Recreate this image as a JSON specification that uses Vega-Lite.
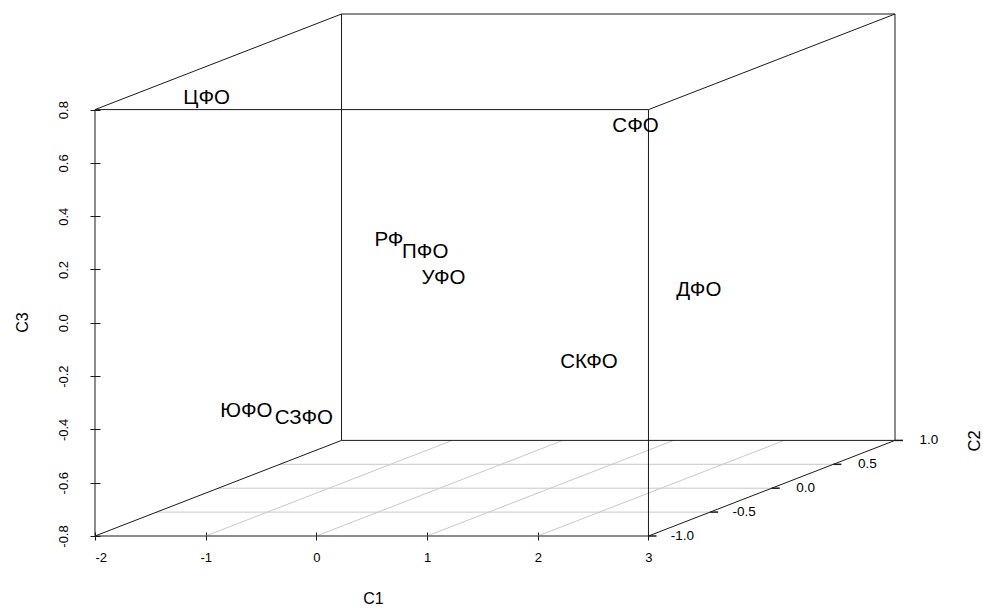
{
  "$schema": "https://vega.github.io/schema/vega-lite/v6.json",
  "width": 800,
  "height": 522,
  "autosize": "none",
  "padding": {"left": 95, "top": 14, "right": 88, "bottom": 72},
  "background": "white",
  "config": {
    "view": {"stroke": null},
    "font": "Liberation Sans",
    "axis": {"labelFont": "Liberation Sans", "titleFont": "Liberation Sans", "labelColor": "#000", "titleColor": "#000", "tickColor": "#1a1a1a", "titleFontWeight": "normal"}
  },
  "datasets": {
    "lines": [
      {"kind": "grid", "x": -1, "y": -0.8, "x2": 1.227, "y2": -0.4413},
      {"kind": "grid", "x": 0, "y": -0.8, "x2": 2.227, "y2": -0.4413},
      {"kind": "grid", "x": 1, "y": -0.8, "x2": 3.227, "y2": -0.4413},
      {"kind": "grid", "x": 2, "y": -0.8, "x2": 4.227, "y2": -0.4413},
      {"kind": "grid", "x": -1.443, "y": -0.7103, "x2": 3.557, "y2": -0.7103},
      {"kind": "grid", "x": -0.8865, "y": -0.6206, "x2": 4.1135, "y2": -0.6206},
      {"kind": "grid", "x": -0.33, "y": -0.531, "x2": 4.67, "y2": -0.531},
      {"kind": "box", "x": -2, "y": -0.8, "x2": 3, "y2": -0.8},
      {"kind": "box", "x": -2, "y": -0.8, "x2": -2, "y2": 0.8},
      {"kind": "box", "x": -2, "y": 0.8, "x2": 3, "y2": 0.8},
      {"kind": "box", "x": 3, "y": -0.8, "x2": 3, "y2": 0.8},
      {"kind": "box", "x": 0.227, "y": -0.4413, "x2": 5.227, "y2": -0.4413},
      {"kind": "box", "x": 0.227, "y": -0.4413, "x2": 0.227, "y2": 1.1587},
      {"kind": "box", "x": 0.227, "y": 1.1587, "x2": 5.227, "y2": 1.1587},
      {"kind": "box", "x": 5.227, "y": -0.4413, "x2": 5.227, "y2": 1.1587},
      {"kind": "box", "x": -2, "y": -0.8, "x2": 0.227, "y2": -0.4413},
      {"kind": "box", "x": 3, "y": -0.8, "x2": 5.227, "y2": -0.4413},
      {"kind": "box", "x": -2, "y": 0.8, "x2": 0.227, "y2": 1.1587},
      {"kind": "box", "x": 3, "y": 0.8, "x2": 5.227, "y2": 1.1587}
    ],
    "c2ticks": [
      {"lab": "-1.0", "x": 3, "y": -0.8},
      {"lab": "-0.5", "x": 3.557, "y": -0.7103},
      {"lab": "0.0", "x": 4.1135, "y": -0.6206},
      {"lab": "0.5", "x": 4.67, "y": -0.531},
      {"lab": "1.0", "x": 5.227, "y": -0.4413}
    ],
    "c2title": [
      {"lab": "C2", "x": 5.949, "y": -0.4435}
    ],
    "regions": [
      {"name": "ЦФО", "x": -0.991, "y": 0.845},
      {"name": "СФО", "x": 2.883, "y": 0.739},
      {"name": "РФ", "x": 0.655, "y": 0.312},
      {"name": "ПФО", "x": 0.983, "y": 0.265},
      {"name": "УФО", "x": 1.148, "y": 0.167},
      {"name": "ДФО", "x": 3.455, "y": 0.122},
      {"name": "СКФО", "x": 2.462, "y": -0.148},
      {"name": "ЮФО", "x": -0.632, "y": -0.33},
      {"name": "СЗФО", "x": -0.113, "y": -0.357}
    ]
  },
  "encoding": {
    "x": {
      "field": "x", "type": "quantitative", "title": "C1",
      "scale": {"domain": [-2, 5.227], "nice": false, "zero": false},
      "axis": {
        "title": "C1", "values": [-2, -1, 0, 1, 2, 3], "format": "d",
        "labelExpr": "replace(datum.label, '\u2212', '-')",
        "domain": false, "grid": false, "tickSize": 8, "offset": -4,
        "labelFontSize": 13, "labelPadding": 11, "titleFontSize": 16, "titlePadding": 26,
        "titleX": 278
      }
    },
    "y": {
      "field": "y", "type": "quantitative", "title": "C3",
      "scale": {"domain": [-0.8, 1.1587], "nice": false, "zero": false},
      "axis": {
        "title": "C3", "values": [-0.8, -0.6, -0.4, -0.2, 0, 0.2, 0.4, 0.6, 0.8], "format": ".1f",
        "labelExpr": "replace(datum.label, '\u2212', '-')",
        "labelAngle": -90, "domain": false, "grid": false, "tickSize": 10, "offset": -5,
        "labelFontSize": 13, "labelPadding": 20, "titleFontSize": 16, "titlePadding": 27,
        "titleY": 308
      }
    }
  },
  "layer": [
    {
      "data": {"name": "lines"},
      "mark": {"type": "rule", "strokeWidth": 1},
      "encoding": {
        "x2": {"field": "x2"},
        "y2": {"field": "y2"},
        "color": {"field": "kind", "type": "nominal", "scale": {"domain": ["grid", "box"], "range": ["#c8c8c8", "#1a1a1a"]}, "legend": null}
      }
    },
    {
      "data": {"name": "c2ticks"},
      "mark": {"type": "rule", "x2Offset": 8, "color": "#1a1a1a", "strokeWidth": 1.5},
      "encoding": {
        "x2": {"field": "x"}
      }
    },
    {
      "data": {"name": "c2ticks"},
      "mark": {"type": "text", "dx": 34, "align": "center", "baseline": "middle", "fontSize": 13.5, "font": "Liberation Sans", "color": "#000"},
      "encoding": {
        "text": {"field": "lab"}
      }
    },
    {
      "data": {"name": "c2title"},
      "mark": {"type": "text", "angle": 270, "align": "center", "baseline": "middle", "fontSize": 16.5, "font": "Liberation Sans", "color": "#000"},
      "encoding": {
        "text": {"field": "lab"}
      }
    },
    {
      "data": {"name": "regions"},
      "mark": {"type": "text", "align": "center", "baseline": "middle", "fontSize": 20.5, "font": "Liberation Sans", "color": "#000"},
      "encoding": {
        "text": {"field": "name"}
      }
    }
  ]
}
